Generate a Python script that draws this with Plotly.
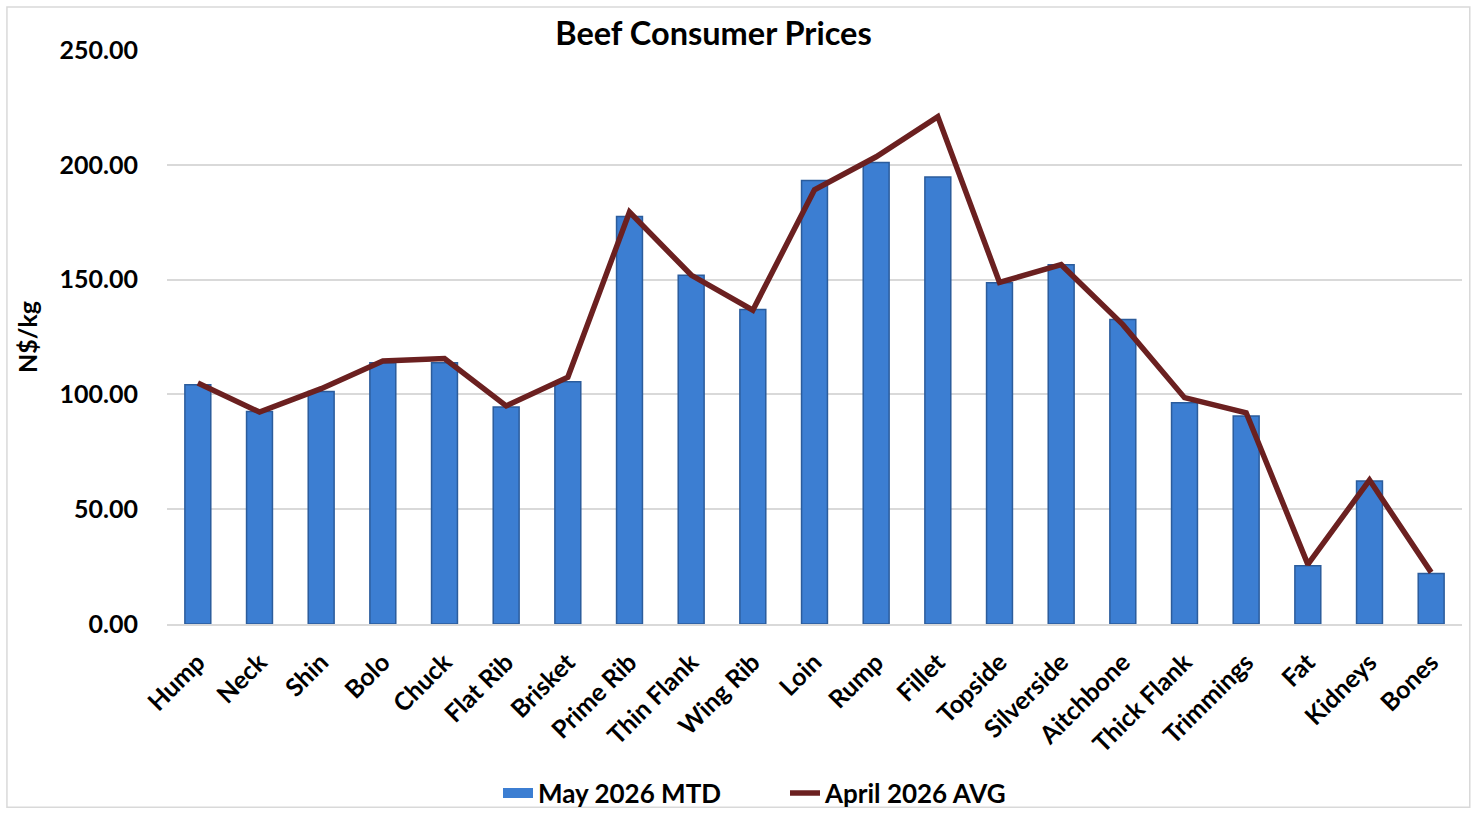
import plotly.graph_objects as go

categories = ["Hump", "Neck", "Shin", "Bolo", "Chuck", "Flat Rib", "Brisket", "Prime Rib",
              "Thin Flank", "Wing Rib", "Loin", "Rump", "Fillet", "Topside", "Silverside",
              "Aitchbone", "Thick Flank", "Trimmings", "Fat", "Kidneys", "Bones"]
may_2026_mtd = [104.2, 92.6, 101.3, 113.8, 113.8, 94.5, 105.5, 177.5, 151.9, 137.0, 193.2,
                201.0, 194.7, 148.6, 156.5, 132.6, 96.4, 90.6, 25.4, 62.3, 22.0]
april_2026_avg = [105.0, 92.3, 102.5, 114.6, 115.6, 95.0, 107.5, 179.4, 152.0, 136.7, 189.1,
                  203.5, 221.0, 148.8, 156.5, 130.4, 98.6, 92.0, 26.0, 62.7, 22.5]

FONT = "Lato, Carlito, Calibri, sans-serif"
BAR_COLOR = "#3C7ED2"
BAR_EDGE = "#2B5C9C"
LINE_COLOR = "#6B2020"

fig = go.Figure()
fig.add_trace(go.Bar(
    x=categories, y=may_2026_mtd, name="<b>May 2026 MTD</b>", showlegend=False,
    marker=dict(color=BAR_COLOR, line=dict(color=BAR_EDGE, width=1.5)),
))
# legend-only entry giving the wide rectangular swatch of the bar series
fig.add_trace(go.Scatter(
    x=[None], y=[None], name="<b>May 2026 MTD</b>", mode="lines",
    line=dict(color=BAR_COLOR, width=14), showlegend=True,
))
fig.add_trace(go.Scatter(
    x=categories, y=april_2026_avg, name="<b>April 2026 AVG</b>", mode="lines",
    line=dict(color=LINE_COLOR, width=5.5),
))

fig.update_layout(
    width=1480, height=814,
    margin=dict(l=167, r=18, t=50, b=188),
    paper_bgcolor="white", plot_bgcolor="white",
    bargap=0.58,
    title=dict(text="<b>Beef Consumer Prices</b>", x=0.422, xanchor="center",
               xref="paper", y=1 - 34 / 814, yref="container", yanchor="middle",
               font=dict(family=FONT, size=32.5, color="black")),
    font=dict(family=FONT, color="black"),
    legend=dict(orientation="h", x=498 / 1480, xref="container", xanchor="left",
                y=1 - 793 / 814, yref="container", yanchor="middle",
                bgcolor="rgba(0,0,0,0)", entrywidth=242, entrywidthmode="pixels",
                font=dict(family=FONT, size=26, color="black"),
                traceorder="normal", itemclick=False),
    showlegend=True,
)
fig.update_yaxes(
    range=[0, 250], dtick=50, tickformat=".2f",
    tickprefix="<b>", ticksuffix="</b>",
    showgrid=True, gridcolor="#D9D9D9", gridwidth=1.5,
    zeroline=False, showline=False,
    tickfont=dict(family=FONT, size=25, color="black"),
    ticklabelstandoff=28,
    title=dict(text="<b>N$/kg</b>", font=dict(family=FONT, size=25, color="black"), standoff=14),
)
fig.update_xaxes(
    tickangle=-45, showline=True, linecolor="#D9D9D9", linewidth=1.5,
    tickfont=dict(family=FONT, size=25, color="black"),
    ticklabelstandoff=12,
    tickprefix="<b>", ticksuffix="</b>",
)
fig.add_shape(type="rect", xref="paper", yref="paper",
              x0=-0.1236, x1=1.006, y0=-0.319, y1=1.0747,
              line=dict(color="#D9D9D9", width=1.5), fillcolor="rgba(0,0,0,0)", layer="below")

fig.write_html("out.html", config={"displayModeBar": False},
               post_script="document.body.style.margin='0px';")
